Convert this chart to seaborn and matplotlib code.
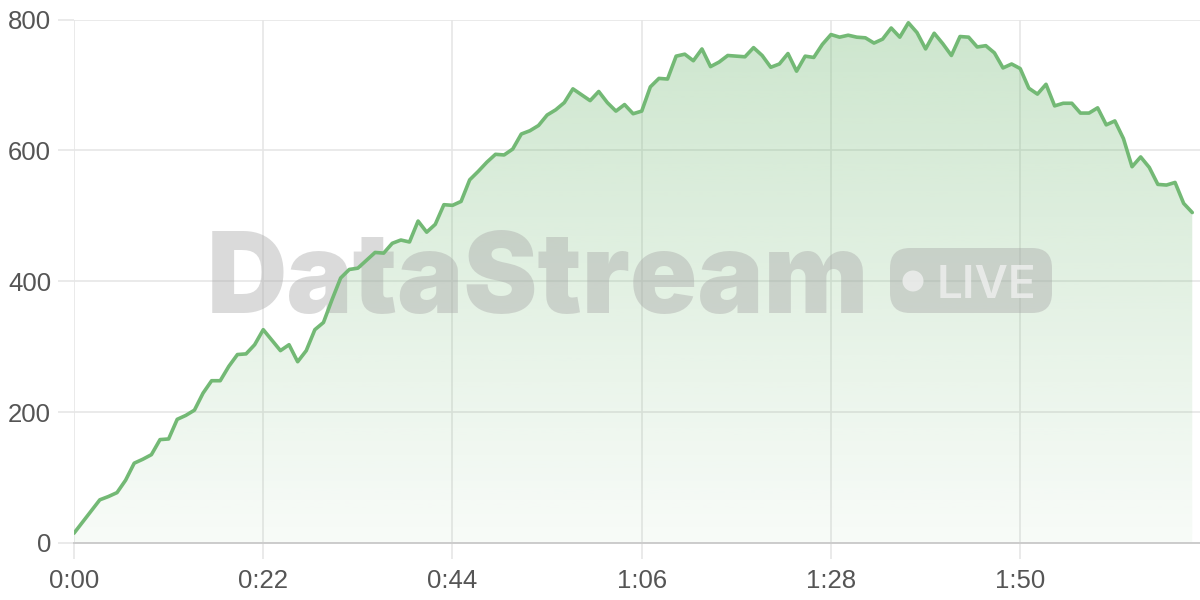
import numpy as np
import pandas as pd
import matplotlib
matplotlib.use("Agg")
import matplotlib.pyplot as plt
import seaborn as sns
from matplotlib.patches import FancyBboxPatch, Circle

# DATA
seconds = list(range(131))
viewers = [
    15, 32, 49, 66, 71, 77, 96, 122, 128, 135,
    158, 159, 189, 195, 203, 229, 248, 248, 270, 288,
    289, 303, 326, 310, 294, 303, 277, 294, 326, 337,
    372, 405, 418, 420, 432, 444, 443, 458, 463, 460,
    492, 475, 487, 517, 516, 522, 555, 568, 582, 594,
    593, 602, 625, 630, 638, 654, 662, 673, 694, 685,
    676, 690, 673, 660, 670, 656, 660, 697, 710, 709,
    744, 747, 737, 755, 728, 735, 745, 744, 743, 757,
    745, 727, 732, 748, 721, 744, 742, 762, 777, 773,
    776, 773, 772, 764, 770, 787, 773, 795, 780, 755,
    779, 763, 745, 774, 773, 758, 760, 749, 726, 732,
    725, 695, 686, 701, 668, 672, 672, 657, 657, 665,
    639, 645, 618, 575, 590, 574, 548, 547, 551, 519,
    505,
]
x_ticks = [0, 22, 44, 66, 88, 110]
x_tick_labels = ["0:00", "0:22", "0:44", "1:06", "1:28", "1:50"]
y_ticks = [0, 200, 400, 600, 800]

df = pd.DataFrame({"t": seconds, "v": viewers})

sns.set_style("white")
plt.rcParams["font.family"] = ["Liberation Sans", "DejaVu Sans"]

line_color = "#73b975"
grid_color = "#e6e6e6"

fig = plt.figure(figsize=(12, 6), dpi=100)
ax = fig.add_axes([74 / 1200, 57 / 600, 1 - 74 / 1200, (543 - 19.5) / 600])

# gradient fill under the line
poly = ax.fill_between(df["t"], df["v"], 0, facecolor="none", edgecolor="none")
grad = np.linspace(0.36, 0.05, 256).reshape(-1, 1)
rgba = np.zeros((256, 1, 4))
rgba[..., 0] = 0x73 / 255
rgba[..., 1] = 0xb9 / 255
rgba[..., 2] = 0x75 / 255
rgba[..., 3] = grad
im = ax.imshow(rgba, extent=[0, 130, 0, 800], aspect="auto", origin="upper", zorder=1)
im.set_clip_path(poly.get_paths()[0], transform=ax.transData)

# line
sns.lineplot(data=df, x="t", y="v", ax=ax, color=line_color, linewidth=2.6, zorder=4)

ax.set_xlim(0, 130.9)
ax.set_ylim(0, 800)
ax.set_xticks(x_ticks)
ax.set_xticklabels(x_tick_labels)
ax.set_yticks(y_ticks)
ax.set_xlabel("")
ax.set_ylabel("")

ax.grid(True, color=grid_color, linewidth=1.2, zorder=0)
ax.set_axisbelow(True)
ax.tick_params(axis="both", length=11.5, width=1.2, color=grid_color,
               labelsize=18.5, labelcolor="#555555")
ax.tick_params(axis="y", pad=5)
ax.tick_params(axis="x", pad=7)
ax.tick_params(left=True, bottom=True)

for s in ["top", "right", "left"]:
    ax.spines[s].set_visible(False)
ax.spines["bottom"].set_color("#cccccc")
ax.spines["bottom"].set_linewidth(1.4)

# watermark
inch = fig.dpi_scale_trans
ax.text(2.07, 2.87, "DataStream", transform=inch, fontsize=80, fontweight=900,
        family=["Inter", "DejaVu Sans"], color="#a8a8a8", alpha=0.42,
        ha="left", va="baseline", zorder=3, clip_on=False)
badge = FancyBboxPatch((8.90, 2.87), 1.62, 0.65, boxstyle="round,pad=0,rounding_size=0.2",
                       transform=inch, facecolor="#a8a8a8", edgecolor="none",
                       alpha=0.42, zorder=3, clip_on=False)
ax.add_artist(badge)
ax.add_artist(Circle((9.13, 3.19), 0.105, transform=inch, facecolor="#f2f2f2",
                     edgecolor="none", alpha=0.75, zorder=3, clip_on=False))
ax.text(9.37, 3.02, "LIVE", transform=inch, fontsize=33, fontweight="semibold",
        family=["Inter", "DejaVu Sans"], color="#f2f2f2", alpha=0.75,
        ha="left", va="baseline", zorder=3, clip_on=False)

plt.savefig("out.png", dpi=100)
plt.close()
